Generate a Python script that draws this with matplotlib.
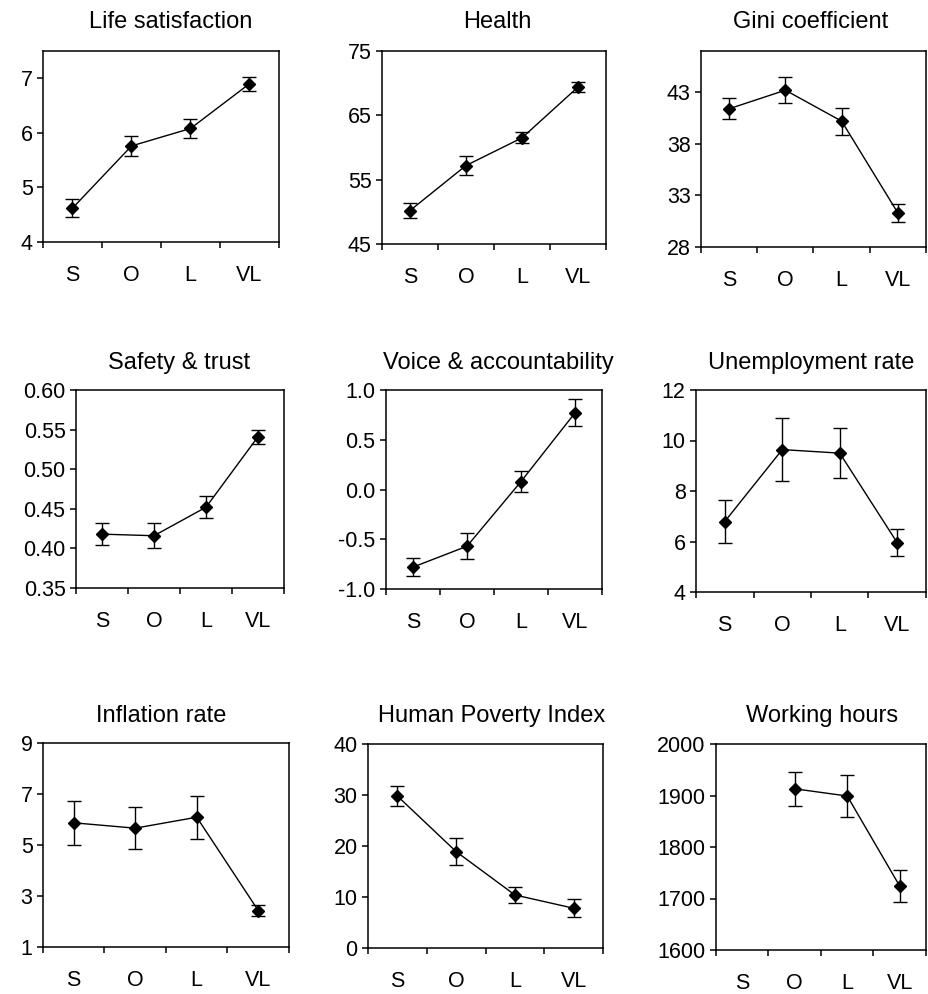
import numpy as np
import matplotlib
matplotlib.use("Agg")
from matplotlib import pyplot as plt

plt.rcParams['font.family'] = ['Liberation Sans', 'DejaVu Sans']

groups = ['S', 'O', 'L', 'VL']

# means and half-widths of the error bars for each indicator
life_sat = [4.62, 5.76, 6.08, 6.90]
life_sat_err = [0.17, 0.19, 0.18, 0.13]
health = [50.2, 57.2, 61.5, 69.4]
health_err = [1.1, 1.5, 0.85, 0.85]
gini = [41.4, 43.2, 40.2, 31.3]
gini_err = [1.0, 1.25, 1.3, 0.88]
safety = [0.418, 0.416, 0.452, 0.541]
safety_err = [0.014, 0.016, 0.014, 0.009]
voice = [-0.78, -0.57, 0.08, 0.77]
voice_err = [0.09, 0.13, 0.105, 0.135]
unemp = [6.79, 9.64, 9.50, 5.95]
unemp_err = [0.85, 1.24, 1.0, 0.54]
inflation = [5.87, 5.66, 6.09, 2.43]
inflation_err = [0.86, 0.82, 0.85, 0.21]
hpi = [29.8, 18.9, 10.4, 7.8]
hpi_err = [2.0, 2.6, 1.6, 1.75]
hours = [np.nan, 1913, 1899, 1724]
hours_err = [np.nan, 33, 40, 31]

titles = ['Life satisfaction', 'Health', 'Gini coefficient',
          'Safety & trust', 'Voice & accountability', 'Unemployment rate',
          'Inflation rate', 'Human Poverty Index', 'Working hours']
series = [life_sat, health, gini, safety, voice, unemp, inflation, hpi, hours]
errors = [life_sat_err, health_err, gini_err, safety_err, voice_err,
          unemp_err, inflation_err, hpi_err, hours_err]
ylims = [(4, 7.5), (45, 75), (28, 47), (0.35, 0.60), (-1.0, 1.0),
         (4, 12), (1, 9), (0, 40), (1600, 2000)]
yticks = [[4, 5, 6, 7], [45, 55, 65, 75], [28, 33, 38, 43],
          [0.35, 0.40, 0.45, 0.50, 0.55, 0.60], [-1.0, -0.5, 0.0, 0.5, 1.0],
          [4, 6, 8, 10, 12], [1, 3, 5, 7, 9], [0, 10, 20, 30, 40],
          [1600, 1700, 1800, 1900, 2000]]
yfmt = ['{:.0f}', '{:.0f}', '{:.0f}', '{:.2f}', '{:.1f}',
        '{:.0f}', '{:.0f}', '{:.0f}', '{:.0f}']

# plot boxes in pixels: left, right, top, bottom
boxes = [(43, 279, 51, 242), (382, 606, 51, 244), (701, 926, 51, 247),
         (76, 284, 390, 588), (386, 602, 390, 589), (696, 926, 390, 592),
         (43, 289, 743, 947), (368, 603, 744, 948), (716, 926, 744, 950)]
# title centre x and baseline y, in pixels
title_pos = [(171, 28), (497, 28), (811, 28),
             (179, 369), (498, 369), (811, 369),
             (161, 722), (492, 722), (822, 722)]

W, H = 929, 994
fig = plt.figure(figsize=(W / 100, H / 100), dpi=100)

x = np.arange(4) + 0.5
for i in range(9):
    l, r, t, b = boxes[i]
    ax = fig.add_axes([l / W, 1 - b / H, (r - l) / W, (b - t) / H])
    ax.errorbar(x, series[i], yerr=errors[i], color='black', lw=1.0,
                marker='D', ms=6.5, capsize=5, elinewidth=1.0, capthick=1.0)
    ax.set_xlim(0, 4)
    ax.set_ylim(*ylims[i])
    ax.set_yticks(yticks[i])
    ax.set_yticklabels([yfmt[i].format(v) for v in yticks[i]])
    ax.set_xticks(np.arange(5))
    ax.set_xticklabels([])
    ax.set_xticks(x, minor=True)
    ax.set_xticklabels(groups, minor=True)
    ax.tick_params(axis='x', which='major', direction='out', length=4.5, width=1.1)
    ax.tick_params(axis='x', which='minor', length=0, pad=16.5, labelsize=15.5)
    ax.tick_params(axis='y', direction='out', length=4.5, width=1.1, pad=3,
                   labelsize=15.5)
    for s in ax.spines.values():
        s.set_linewidth(1.1)
    tx, ty = title_pos[i]
    fig.text(tx / W, 1 - ty / H, titles[i], ha='center', va='baseline',
             fontsize=17)

fig.savefig('out.png', dpi=100)
